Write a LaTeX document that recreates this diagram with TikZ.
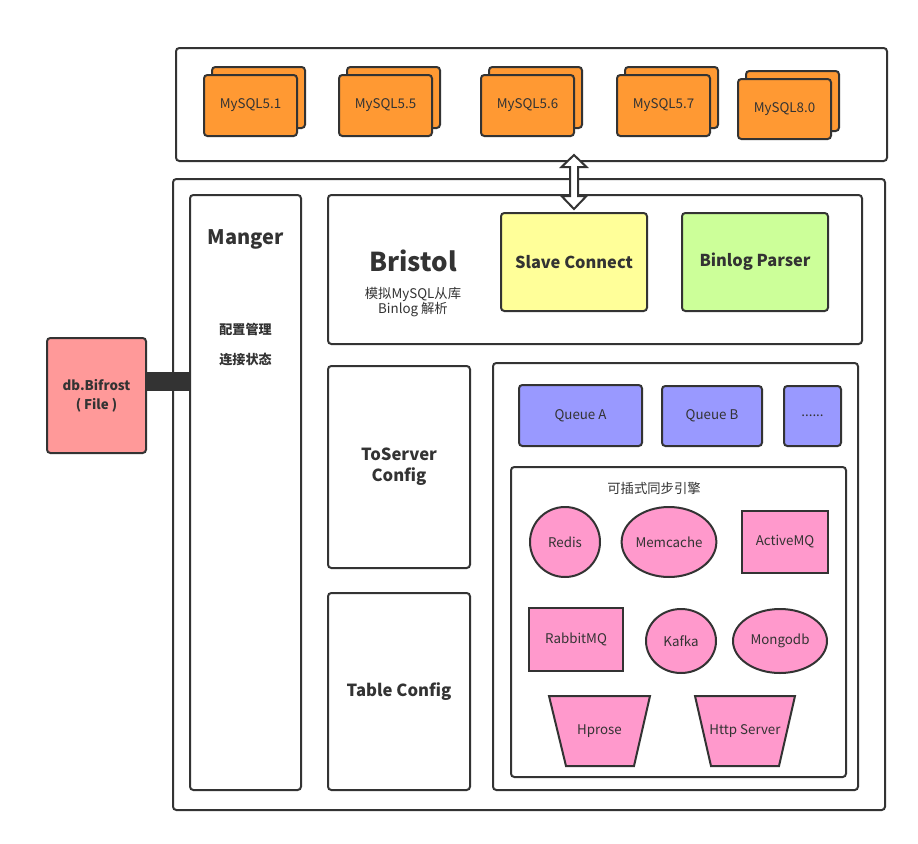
\documentclass[tikz,border=0pt]{standalone}
\usepackage{fontspec}
\setmainfont{Noto Sans CJK SC}
\usetikzlibrary{fit,shapes.geometric}
\definecolor{ln}{HTML}{333333}
\definecolor{orng}{HTML}{FF9933}
\definecolor{salmon}{HTML}{FF9999}
\definecolor{yel}{HTML}{FFFF99}
\definecolor{lgreen}{HTML}{CCFF99}
\definecolor{lblue}{HTML}{9999FF}
\definecolor{pnk}{HTML}{FF99CC}
\begin{document}
\begin{tikzpicture}[x=0.75pt,y=-0.75pt,
  every node/.style={text=ln, font=\fontsize{10}{12}\selectfont},
  frame/.style={draw=ln, line width=1.5pt, rounded corners=2.5pt, inner sep=0pt},
  sqbox/.style={draw=ln, line width=1.5pt, inner sep=0pt, fill=pnk},
  card/.style={frame, fill=orng},
  ell/.style={draw=ln, line width=1.5pt, ellipse, inner sep=0pt, fill=pnk},
  trap/.style={draw=ln, line width=1.5pt, fill=pnk, line join=miter},
  bigb/.style={align=center, font=\fontsize{12.5}{16}\selectfont\bfseries},
  smallb/.style={font=\fontsize{9.8}{12}\selectfont\bfseries},
  slabel/.style={align=center, font=\fontsize{12.3}{15}\selectfont\bfseries},
]
\useasboundingbox (0,0) rectangle (918,843);

% top container with MySQL versions
\node[frame, fit={(176,48) (887,161)}] (top) {};
\draw[card] (212,67) rectangle (305,128);
\node[card, fit={(204,75) (297,136)}] (m51) {};
\node (m51t) at (m51.center) {MySQL5.1};
\draw[card] (347,67) rectangle (440,128);
\node[card, fit={(339,75) (432,136)}] (m55) {};
\node (m55t) at (m55.center) {MySQL5.5};
\draw[card] (489,67) rectangle (582,128);
\node[card, fit={(481,75) (574,136)}] (m56) {};
\node (m56t) at (m56.center) {MySQL5.6};
\draw[card] (625,67) rectangle (718,128);
\node[card, fit={(617,75) (710,136)}] (m57) {};
\node (m57t) at (m57.center) {MySQL5.7};
\draw[card] (746,71) rectangle (839,131);
\node[card, fit={(738,79) (831,139)}] (m80) {};
\node (m80t) at (m80.center) {MySQL8.0};

% main container
\node[frame, fit={(173,179) (885,810)}] (main) {};

% Manger
\node[frame, fit={(190,195) (301,790)}] (manger) {};
\node[font=\fontsize{15}{18}\selectfont\bfseries] (mangerT) at (245.5,239) {Manger};
\node[smallb] (cfgmgr) at (245.5,329) {配置管理};
\node[smallb] (connst) at (245.5,360) {连接状态};

% db.Bifrost
\node[frame, fill=salmon, fit={(47,338) (146,453)}] (db) {};
\node[align=center, font=\fontsize{10}{14}\selectfont\bfseries] (dbt) at (db.center) {db.Bifrost\\( File )};
\coordinate (barY) at (0,381.5);
\draw[ln, line width=14pt] (db.east |- barY) -- (manger.west |- barY);

% Bristol
\node[frame, fit={(328,195) (862,344)}] (bristol) {};
\node[font=\fontsize{19.5}{24}\selectfont\bfseries] (bristolT) at (413,261) {Bristol};
\node[align=center, font=\fontsize{10}{11.5}\selectfont] (bristolS) at (413,302) {模拟MySQL从库\\Binlog 解析};
\node[frame, fill=yel, fit={(501,213) (647,311)}] (slave) {};
\node[slabel] (slavet) at (slave.center) {Slave Connect};
\node[frame, fill=lgreen, fit={(682,213) (828,311)}] (binlog) {};
\node[slabel] (binlogt) at (binlog.center) {Binlog Parser};

% double arrow between MySQL container and Slave Connect
\draw[ln, fill=white, line width=1.5pt, line join=miter]
  (574,155) -- (586.5,167) -- (578,167) -- (578,196) -- (586.5,196) -- (574,209)
  -- (561.5,196) -- (570,196) -- (570,167) -- (561.5,167) -- cycle;

% configs
\node[frame, fit={(328,366) (470,568)}] (toserver) {};
\node[bigb] (toservert) at (toserver.center) {ToServer\\Config};
\node[frame, fit={(328,593) (470,790)}] (tablecfg) {};
\node[bigb] (tablecfgt) at (tablecfg.center) {Table Config};

% right panel
\node[frame, fit={(493,363) (858,790)}] (right) {};
\node[frame, fill=lblue, fit={(519,385) (642,446)}] (qa) {};
\node (qat) at (qa.center) {Queue A};
\node[frame, fill=lblue, fit={(662,386) (762,446)}] (qb) {};
\node (qbt) at (qb.center) {Queue B};
\node[frame, fill=lblue, fit={(784,386) (841,446)}] (qd) {};
\node (qdt) at (qd.center) {......};

% pluggable sync engine
\node[frame, fit={(511,467) (846,777)}] (engine) {};
\node (engineT) at (654,488) {可插式同步引擎};
\node[ell, minimum width=52.5pt, minimum height=52.5pt] (redis) at (565,542) {Redis};
\node[ell, minimum width=70.5pt, minimum height=52.5pt] (memcache) at (669,542) {Memcache};
\node[sqbox, fit={(742,511) (828,573)}] (activemq) {};
\node (activemqt) at (activemq.center) {ActiveMQ};
\node[sqbox, fit={(529,608) (623,671)}] (rabbitmq) {};
\node (rabbitmqt) at (rabbitmq.center) {RabbitMQ};
\node[ell, minimum width=52.5pt, minimum height=48pt] (kafka) at (681,641) {Kafka};
\node[ell, minimum width=70.5pt, minimum height=48pt] (mongodb) at (780,641) {Mongodb};
\draw[trap] (549,696) -- (650,696) -- (634,766) -- (566,766) -- cycle;
\node (hprose) at (599.5,731) {Hprose};
\draw[trap] (695,696) -- (795,696) -- (779,766) -- (711,766) -- cycle;
\node (http) at (745,731) {Http Server};
\end{tikzpicture}
\end{document}
